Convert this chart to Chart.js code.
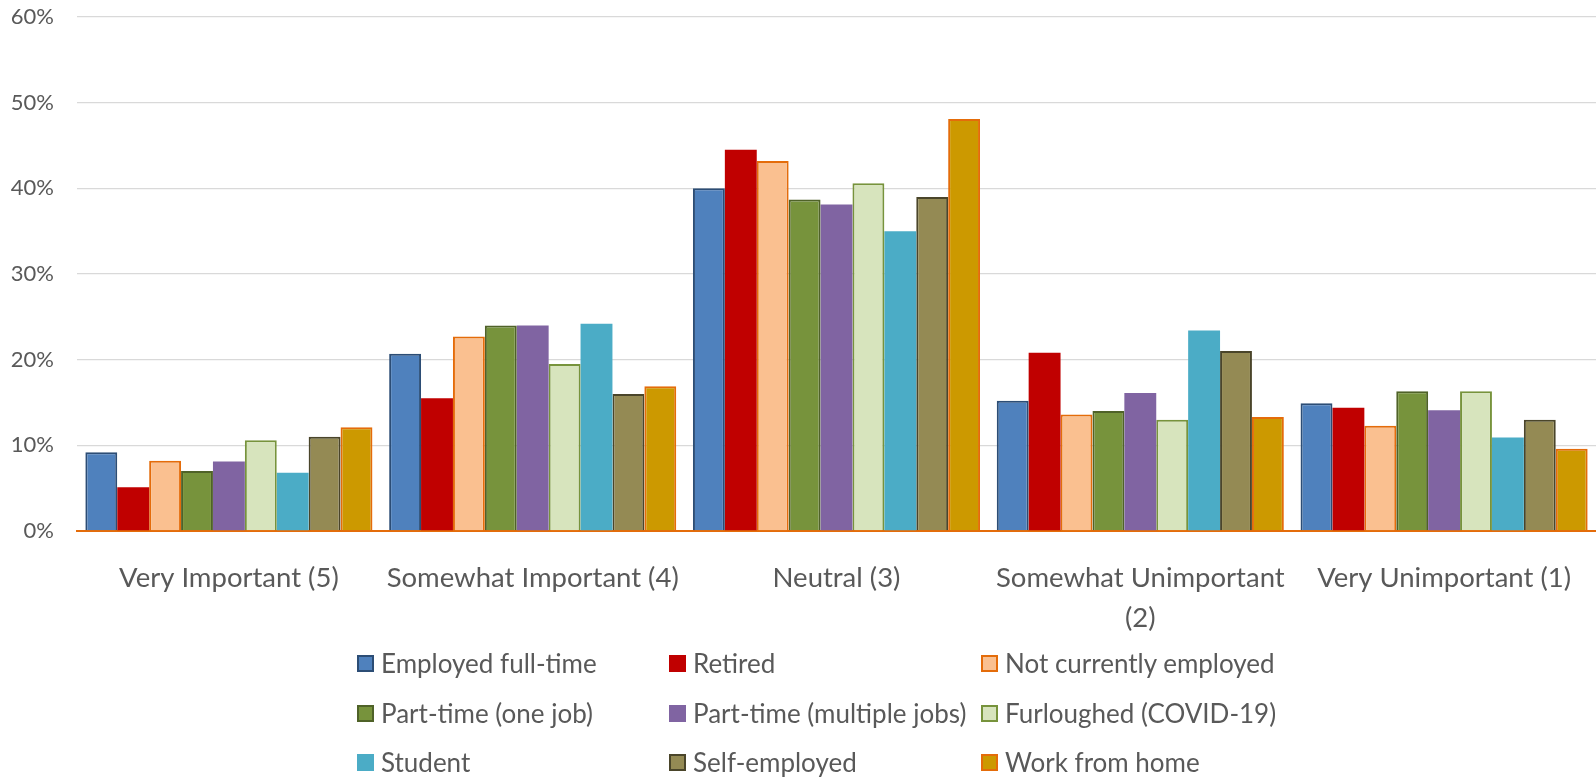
<!DOCTYPE html>
<html>
<head>
<meta charset="utf-8">
<script src="https://cdn.jsdelivr.net/npm/chart.js@4/dist/chart.umd.min.js"></script>
<style>
  body { margin: 0; background: #fff; }
  #wrap { position: relative; width: 1596px; height: 778px; }
  #legend { position: absolute; left: 0; top: 0; width: 1596px; height: 778px; pointer-events: none;
    font-family: Lato, "Open Sans", sans-serif; font-size: 26px; color: #595959; }
  .item { position: absolute; display: flex; align-items: center; white-space: nowrap; }
  .box { width: 13px; height: 13px; border: 2px solid; margin-right: 7px; }
</style>
</head>
<body>
<div id="wrap">
  <canvas id="myChart" width="1596" height="778"></canvas>
  <div id="legend"></div>
</div>
<script>
var categories = ['Very Important (5)', 'Somewhat Important (4)', 'Neutral (3)', ['Somewhat Unimportant', '(2)'], 'Very Unimportant (1)'];

var employedFullTime = [9.2, 20.7, 40.0, 15.2, 14.9];
var retired = [5.1, 15.5, 44.5, 20.8, 14.4];
var notCurrentlyEmployed = [8.2, 22.7, 43.2, 13.6, 12.3];
var partTimeOne = [7.0, 24.0, 38.7, 14.0, 16.3];
var partTimeMultiple = [8.1, 24.0, 38.1, 16.1, 14.1];
var furloughed = [10.6, 19.5, 40.6, 13.0, 16.3];
var student = [6.8, 24.2, 35.0, 23.4, 10.9];
var selfEmployed = [11.0, 16.0, 39.0, 21.0, 13.0];
var workFromHome = [12.1, 16.9, 48.1, 13.3, 9.6];

var yTicks = [0, 10, 20, 30, 40, 50, 60];

var series = [
  {label: 'Employed full-time', data: employedFullTime, fill: '#4f81bd', line: '#2c4d75', bw: 2},
  {label: 'Retired', data: retired, fill: '#c00000', line: '#c00000', bw: 0},
  {label: 'Not currently employed', data: notCurrentlyEmployed, fill: '#fac090', line: '#e46c0a', bw: 2},
  {label: 'Part-time (one job)', data: partTimeOne, fill: '#77933c', line: '#4f6228', bw: 2},
  {label: 'Part-time (multiple jobs)', data: partTimeMultiple, fill: '#8064a2', line: '#8064a2', bw: 0},
  {label: 'Furloughed (COVID-19)', data: furloughed, fill: '#d7e4bd', line: '#77933c', bw: 2},
  {label: 'Student', data: student, fill: '#4bacc6', line: '#4bacc6', bw: 0},
  {label: 'Self-employed', data: selfEmployed, fill: '#948a54', line: '#4a452a', bw: 2},
  {label: 'Work from home', data: workFromHome, fill: '#cc9900', line: '#e46c0a', bw: 2}
];

var ctx = document.getElementById('myChart').getContext('2d');
var myChart = new Chart(ctx, {
  type: 'bar',
  data: {
    labels: categories,
    datasets: series.map(function (s) {
      return {
        label: s.label,
        data: s.data,
        backgroundColor: s.fill,
        borderColor: s.line,
        borderWidth: s.bw
      };
    })
  },
  options: {
    responsive: false,
    animation: false,
    layout: { padding: { top: 17, left: 0, right: 0, bottom: 0 } },
    datasets: {
      bar: { categoryPercentage: 0.945, barPercentage: 1 }
    },
    plugins: {
      legend: { display: false },
      tooltip: { enabled: false }
    },
    scales: {
      x: {
        z: 1,
        grid: { display: false },
        border: { display: true, color: '#e46c0a', width: 2 },
        ticks: {
          color: '#595959',
          padding: 19,
          maxRotation: 0,
          autoSkip: false,
          font: { family: 'Lato', size: 27.5, lineHeight: 40 / 27.5 }
        },
        afterFit: function (scale) { scale.height = 778 - 531; }
      },
      y: {
        min: 0,
        max: 60,
        afterBuildTicks: function (scale) {
          scale.ticks = yTicks.map(function (v) { return {value: v}; });
        },
        border: { display: false },
        grid: {
          // invisible tick marks give the gap between labels and plot
          drawTicks: true,
          tickLength: 23,
          tickColor: 'rgba(0,0,0,0)',
          lineWidth: 1.3,
          color: function (c) { return c.tick && c.tick.value === 0 ? 'rgba(0,0,0,0)' : '#d9d9d9'; }
        },
        ticks: {
          color: '#595959',
          padding: 0,
          font: { family: 'Lato', size: 22 },
          callback: function (v) { return v + '%'; }
        },
        afterFit: function (scale) { scale.width = 77; }
      }
    }
  }
});

// legend laid out as a 3 x 3 grid below the plot
var legendCols = [357, 669, 981];
var legendRows = [663, 713, 762];
var legend = document.getElementById('legend');
series.forEach(function (s, i) {
  var item = document.createElement('div');
  item.className = 'item';
  item.style.left = legendCols[i % 3] + 'px';
  item.style.top = (legendRows[Math.floor(i / 3)] - 17) + 'px';
  item.style.height = '34px';
  var box = document.createElement('span');
  box.className = 'box';
  box.style.background = s.fill;
  box.style.borderColor = s.bw ? s.line : s.fill;
  var txt = document.createElement('span');
  txt.textContent = s.label;
  item.appendChild(box);
  item.appendChild(txt);
  legend.appendChild(item);
});
</script>
</body>
</html>
